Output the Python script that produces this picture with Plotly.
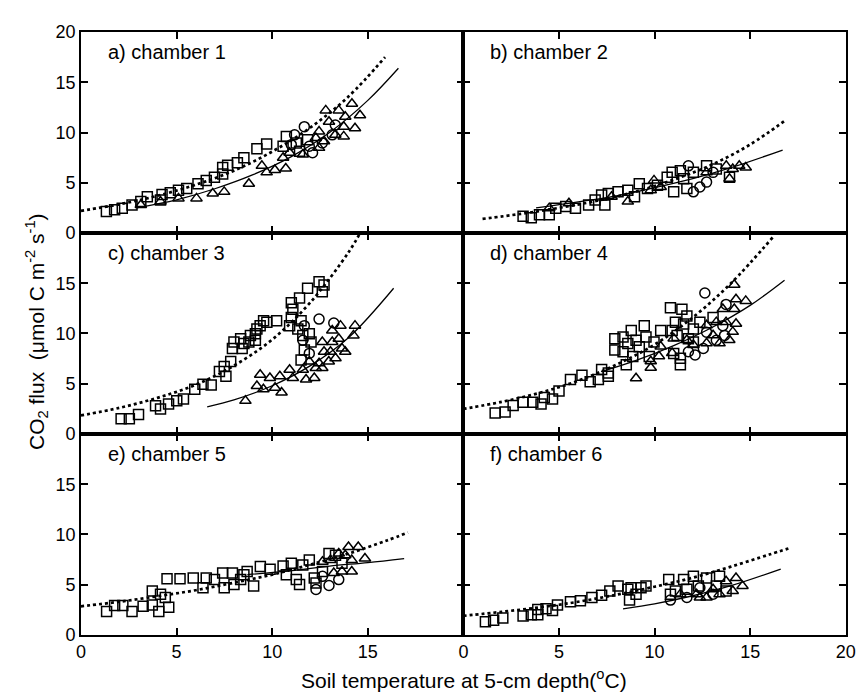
import plotly.graph_objects as go
from plotly.subplots import make_subplots

# ---------------- data ----------------
panel_labels = ["a) chamber 1", "b) chamber 2", "c) chamber 3",
                "d) chamber 4", "e) chamber 5", "f) chamber 6"]

# panel a
a_sq = [(1.33,2.14),(1.76,2.31),(2.16,2.47),(2.67,2.79),(3.13,3.12),(3.47,3.6),(4.16,3.28),(4.24,3.83),
        (4.67,4.0),(5.1,4.26),(5.53,4.42),(6.12,4.9),(6.55,5.23),(6.98,5.55),(7.41,5.88),(7.41,6.52),
        (7.67,6.75),(8.18,7.0),(8.52,7.49),(9.2,8.37),(9.71,8.86),(10.74,9.6),(11.26,8.96),(11.85,9.28),
        (11.43,8.14),(10.57,8.63)]
a_ci = [(11.17,9.77),(11.68,10.58),(12.11,7.98),(11.94,8.63),(11.0,8.79),(13.14,9.77),(13.3,10.74),(12.62,8.96)]
a_tr = [(3.13,2.79),(4.16,3.12),(5.1,3.44),(6.04,3.44),(6.89,3.93),(7.49,4.09),(8.78,4.9),(9.46,6.68),
        (9.71,6.03),(10.14,6.26),(10.71,6.42),(10.57,7.49),(10.91,7.98),(11.6,7.81),(12.45,8.47),(12.71,9.12),
        (12.45,10.09),(12.8,12.2),(13.3,9.77),(13.74,9.61),(13.74,10.58),(13.82,11.56),(14.17,12.86),
        (14.33,10.42),(14.59,11.72),(13.48,12.2),(12.97,11.07),(12.28,9.45)]
a_dot_t = [0, 2, 4, 6, 8, 10, 12, 14, 15.9]
a_dot_f = [2.2, 2.85, 3.7, 4.8, 6.2, 8.1, 10.5, 13.6, 17.5]
a_sol_t = [2.9, 5, 7, 9, 11, 13, 15, 16.6]
a_sol_f = [2.5, 3.3, 4.4, 5.8, 7.6, 10.0, 13.2, 16.4]

# panel b
b_sq = [(3.12,1.66),(3.55,1.5),(3.98,1.82),(4.49,1.82),(4.83,2.47),(5.35,2.63),(5.86,2.47),(6.55,2.79),
        (6.89,3.28),(7.23,3.77),(7.58,3.93),(8.09,4.09),(8.6,4.26),(9.2,4.9),(9.63,4.42),(10.15,4.74),
        (10.66,5.55),(10.92,6.03),(11.35,6.2),(11.69,4.42),(11.52,5.39),(12.03,6.03),(12.72,6.68),
        (13.23,6.36),(13.92,5.55),(11.0,4.09),(8.95,3.6),(7.4,2.79)]
b_ci = [(11.77,6.68),(12.03,4.09),(12.37,4.58),(12.72,5.06),(13.06,6.03)]
b_tr = [(8.6,3.12),(9.97,5.23),(10.32,4.58),(13.75,6.68),(14.09,6.36),(14.43,6.68),(14.77,6.52),
        (13.92,5.39),(12.72,6.03),(7.75,3.6),(5.52,2.96),(4.49,2.47),(9.8,4.26)]
b_dot_t = [1.0, 3, 5, 7, 9, 11, 13, 15, 16.9]
b_dot_f = [1.4, 1.9, 2.5, 3.2, 4.1, 5.3, 6.8, 8.8, 11.3]
b_sol_t = [3.8, 6, 8, 10, 12, 14, 16.7]
b_sol_f = [2.5, 3.1, 3.7, 4.5, 5.4, 6.5, 8.25]

# panel c
c_sq = [(2.1,1.53),(2.53,1.53),(3.01,1.95),(3.9,2.82),(4.16,2.5),(4.58,2.99),(5.01,3.31),(5.36,3.48),
        (5.95,4.45),(6.38,4.94),(6.81,4.87),(7.24,6.23),(7.58,5.75),(7.49,6.72),(7.83,7.21),(7.92,8.51),
        (8.0,9.16),(8.43,8.51),(8.35,9.48),(8.86,9.81),(8.78,9.16),(9.12,9.32),(9.2,10.45),(9.37,10.78),
        (9.55,11.27),(9.72,11.11),(10.23,11.27),(10.91,10.78),(11.0,11.59),(11.0,13.05),(11.43,13.54),
        (11.08,12.4),(11.51,11.27),(11.34,10.45),(11.6,9.81),(11.94,9.97),(12.03,9.16),(11.68,8.35),
        (11.51,7.37),(11.85,14.49),(12.45,15.14),(12.62,14.16),(12.71,14.81),(8.52,9.0),(9.12,9.97)]
c_ci = [(12.45,11.43),(13.22,11.04),(11.94,8.02),(11.6,9.32),(11.68,10.78)]
c_tr = [(8.6,3.3),(9.37,5.9),(9.2,4.78),(9.88,5.58),(9.54,4.45),(10.4,5.75),(10.15,4.61),(10.49,4.13),
        (10.91,6.4),(11.08,5.58),(11.77,5.42),(12.2,5.58),(11.6,6.4),(11.94,7.21),(12.28,6.56),(12.62,6.56),
        (12.71,8.18),(13.05,8.18),(13.14,10.29),(13.14,9.16),(13.48,9.48),(13.57,10.78),(13.65,8.51),
        (13.82,8.18),(14.33,10.78),(14.25,9.81),(12.62,9.16),(12.96,7.21),(12.45,7.04),(13.31,7.53)]
c_dot_t = [0, 2, 4, 6, 8, 10, 12, 14, 14.6]
c_dot_f = [1.85, 2.6, 3.6, 4.9, 6.8, 9.4, 13.1, 18.1, 20.0]
c_sol_t = [6.6, 8, 10, 12, 14, 16.35]
c_sol_f = [2.7, 3.4, 4.8, 6.8, 9.6, 14.5]

# panel d
d_sq = [(1.66,2.08),(2.18,2.18),(2.6,2.83),(3.12,3.15),(3.63,3.15),(4.06,2.99),(4.23,3.64),(4.66,3.48),
        (5.0,4.29),(5.6,5.43),(6.2,5.85),(6.63,5.2),(7.23,6.41),(7.58,5.75),(7.06,5.43),(7.92,9.48),
        (8.35,9.64),(8.78,10.29),(9.46,10.78),(9.55,9.64),(9.03,9.32),(7.92,8.35),(8.35,8.18),(8.6,9.0),
        (8.86,7.7),(9.2,8.67),(9.72,7.7),(10.32,10.29),(10.83,12.56),(11.43,12.4),(11.09,11.11),
        (10.92,10.29),(11.52,10.94),(11.18,9.81),(11.69,11.75),(12.03,10.45),(12.37,11.11),(13.06,11.59),
        (12.03,9.16),(11.77,9.48),(11.0,8.02),(11.35,7.53),(11.35,6.88),(8.52,6.88),(7.58,6.07),(9.97,9.16)]
d_ci = [(12.63,14.03),(13.74,12.89),(13.66,9.81),(12.12,7.86),(12.55,8.51),(13.23,9.32),(12.72,10.13),
        (11.77,8.18),(13.57,10.78)]
d_tr = [(9.03,5.54),(9.8,6.59),(9.8,7.24),(10.23,7.73),(10.92,8.05),(11.0,9.51),(12.03,8.86),(12.72,9.02),
        (13.06,9.83),(13.4,9.02),(13.91,9.35),(14.09,10.16),(14.26,10.97),(14.17,12.43),(14.26,13.4),
        (14.77,13.24),(14.17,14.84),(13.57,12.43),(13.74,11.13),(13.23,11.13),(12.72,10.81),(11.69,9.35),
        (10.32,8.7)]
d_dot_t = [0, 2, 4, 6, 8, 10, 12, 14, 16.2]
d_dot_f = [2.5, 3.2, 4.1, 5.3, 6.9, 8.9, 11.6, 15.0, 19.6]
d_sol_t = [7.2, 9, 11, 13, 15, 16.8]
d_sol_f = [6.2, 7.3, 8.8, 10.6, 12.8, 15.3]

# panel e
e_sq = [(1.34,2.34),(1.76,2.92),(2.19,2.92),(2.67,2.34),(3.25,2.86),(3.73,2.99),(3.73,4.38),(4.16,4.06),
        (4.41,3.73),(4.59,2.76),(4.07,2.34),(4.5,5.58),(5.18,5.58),(5.87,5.67),(6.55,5.67),(6.38,4.7),
        (6.98,5.51),(7.41,6.16),(7.49,4.7),(7.92,6.16),(8.0,5.02),(8.35,5.51),(8.52,6.0),(9.03,4.86),
        (9.38,6.81),(9.89,6.55),(8.69,6.32),(10.57,6.87),(11.0,7.13),(11.6,6.97),(11.26,5.51),(11.43,5.02),
        (12.2,5.67),(12.29,5.18),(12.63,6.32),(12.97,8.1),(13.31,7.94),(11.94,7.45),(10.74,6.0),(13.65,7.13)]
e_ci = [(12.29,4.53),(12.97,4.92),(13.48,5.51),(12.63,5.83)]
e_tr = [(13.05,7.45),(13.48,8.1),(13.82,7.94),(14.16,7.45),(14.5,8.75),(14.85,7.61),(14.16,6.32),
        (13.65,6.32),(13.22,6.16),(12.63,7.29),(13.99,8.75)]
e_dot_t = [0, 2, 4, 6, 8, 10, 12, 14, 16, 17.1]
e_dot_f = [2.85, 3.3, 3.85, 4.45, 5.2, 6.0, 7.0, 8.1, 9.4, 10.2]
e_sol_t = [8.7, 11, 13, 15, 16.9]
e_sol_f = [6.0, 6.4, 6.85, 7.2, 7.6]

# panel f
f_sq = [(1.15,1.3),(1.58,1.46),(2.06,1.69),(3.12,1.88),(3.55,2.01),(3.89,2.01),(3.89,2.53),(4.32,2.6),
        (4.66,2.44),(4.92,2.99),(5.6,3.31),(6.12,3.41),(6.72,3.73),(7.23,3.96),(7.66,4.38),(8.09,4.87),
        (8.6,4.54),(8.77,4.7),(9.29,4.7),(9.55,4.87),(9.03,4.06),(8.69,3.47),(10.74,5.51),(11.09,4.38),
        (11.52,5.51),(12.03,5.84),(12.72,5.67),(11.69,4.54),(10.83,4.06),(13.23,4.87),(13.4,5.84),
        (13.74,4.38),(12.29,4.87)]
f_ci = [(10.83,3.47),(11.69,3.73),(12.37,4.7),(13.06,4.06)]
f_tr = [(12.2,4.06),(12.72,3.73),(13.4,4.06),(13.74,5.35),(14.26,5.67),(14.6,4.87),(14.09,4.38),
        (13.06,4.54),(12.37,3.73),(11.35,4.06)]
f_dot_t = [0, 2, 4, 6, 8, 10, 12, 14, 16, 17.0]
f_dot_f = [1.9, 2.3, 2.75, 3.3, 4.0, 4.8, 5.7, 6.8, 8.0, 8.6]
f_sol_t = [8.35, 10, 12, 14, 16.6]
f_sol_f = [2.6, 3.1, 3.9, 4.9, 6.55]

x_ticks = [0, 5, 10, 15, 20]
y_ticks = [0, 5, 10, 15, 20]

panels = [
    (a_sq, a_ci, a_tr, a_dot_t, a_dot_f, a_sol_t, a_sol_f),
    (b_sq, b_ci, b_tr, b_dot_t, b_dot_f, b_sol_t, b_sol_f),
    (c_sq, c_ci, c_tr, c_dot_t, c_dot_f, c_sol_t, c_sol_f),
    (d_sq, d_ci, d_tr, d_dot_t, d_dot_f, d_sol_t, d_sol_f),
    (e_sq, e_ci, e_tr, e_dot_t, e_dot_f, e_sol_t, e_sol_f),
    (f_sq, f_ci, f_tr, f_dot_t, f_dot_f, f_sol_t, f_sol_f),
]

# ---------------- figure ----------------
W, H = 868, 700
FONT = "Liberation Sans, Arial, Helvetica, sans-serif"

fig = make_subplots(rows=3, cols=2, horizontal_spacing=0, vertical_spacing=0)

def add_markers(pts, symbol, r, c):
    fig.add_trace(go.Scatter(
        x=[p[0] for p in pts], y=[p[1] for p in pts], mode="markers",
        marker=dict(symbol=symbol, size=10, color="black", line=dict(width=1.5, color="black")),
        showlegend=False, hoverinfo="skip"), row=r, col=c)

for i, (sq, ci, tr, dt, df, st, sf) in enumerate(panels):
    r, c = i // 2 + 1, i % 2 + 1
    add_markers(sq, "square-open", r, c)
    add_markers(ci, "circle-open", r, c)
    add_markers(tr, "triangle-up-open", r, c)
    fig.add_trace(go.Scatter(x=dt, y=df, mode="lines",
                             line=dict(color="black", width=2.7, dash="dot", shape="spline"),
                             showlegend=False, hoverinfo="skip"), row=r, col=c)
    fig.add_trace(go.Scatter(x=st, y=sf, mode="lines",
                             line=dict(color="black", width=1.3, shape="spline"),
                             showlegend=False, hoverinfo="skip"), row=r, col=c)

# domains in pixel coordinates (contiguous panels)
xcols = [(77.3, 466.5), (466.5, 855.5)]
yrows = [(22.7, 229.5), (229.5, 436.5), (436.5, 643.3)]

for i in range(6):
    r, c = i // 2, i % 2
    idx = "" if i == 0 else str(i + 1)
    x0, x1 = xcols[c]
    ytop, ybot = yrows[r]
    xlabels = [str(v) for v in x_ticks] if r == 2 else [""] * 5
    if r == 2 and c == 0:
        xlabels[-1] = ""
    if c == 0:
        ylabels = [str(v) for v in y_ticks]
        if r > 0:
            ylabels[-1] = ""
    else:
        ylabels = [""] * 5
    fig.layout["xaxis" + idx].update(
        domain=[x0 / W, x1 / W], range=[0, 20], tickvals=x_ticks, ticktext=xlabels,
        ticks="inside", ticklen=7, tickwidth=1.5, tickcolor="black",
        showline=True, linewidth=1.5, linecolor="black", mirror="allticks",
        showgrid=False, zeroline=False,
        tickfont=dict(family=FONT, size=18, color="black"))
    fig.layout["yaxis" + idx].update(
        domain=[1 - ybot / H, 1 - ytop / H], range=[0, 20], tickvals=y_ticks, ticktext=ylabels,
        ticks="inside", ticklen=7, tickwidth=1.5, tickcolor="black",
        showline=True, linewidth=1.5, linecolor="black", mirror="allticks",
        showgrid=False, zeroline=False,
        tickfont=dict(family=FONT, size=18, color="black"))
    fig.add_annotation(x=1.3, y=18.0, xref="x" + idx, yref="y" + idx,
                       text=panel_labels[i], showarrow=False, xanchor="left", yanchor="middle",
                       font=dict(family=FONT, size=20, color="black"))

fig.add_annotation(x=32 / W, y=1 - 331 / H, xref="paper", yref="paper", textangle=-90,
                   text="CO<sub>2</sub> flux  (μmol C m<sup>-2</sup> s<sup>-1</sup>)",
                   showarrow=False, xanchor="center", yanchor="middle",
                   font=dict(family=FONT, size=21, color="black"))
fig.add_annotation(x=467 / W, y=1 - 689 / H, xref="paper", yref="paper",
                   text="Soil temperature at 5-cm depth(<sup>o</sup>C)",
                   showarrow=False, xanchor="center", yanchor="middle",
                   font=dict(family=FONT, size=21, color="black"))

fig.update_layout(width=W, height=H, margin=dict(l=0, r=0, t=0, b=0),
                  paper_bgcolor="white", plot_bgcolor="white", showlegend=False)

fig.write_html("out.html")
